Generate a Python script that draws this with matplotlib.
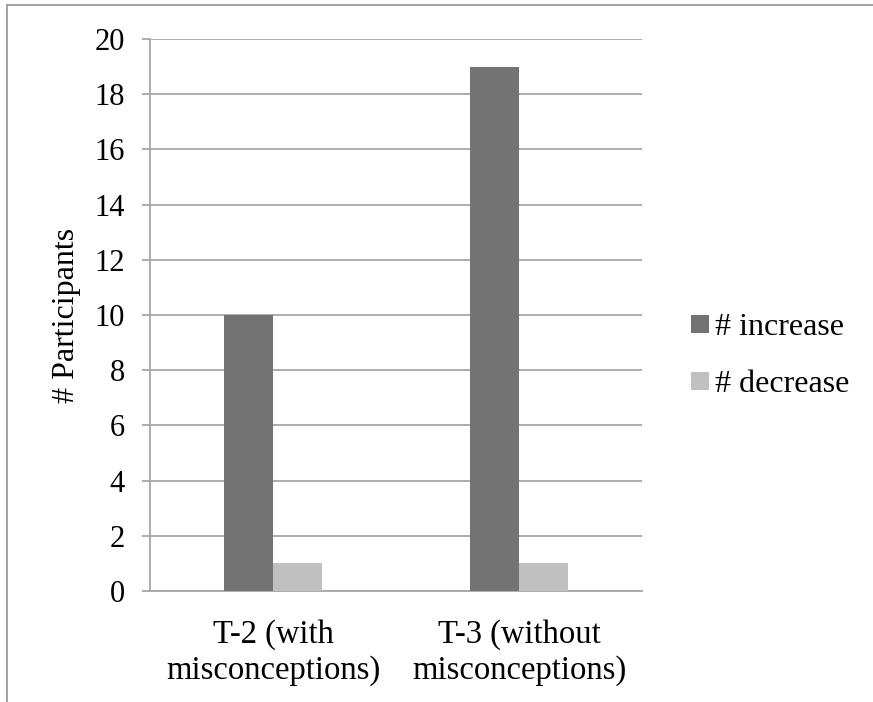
import matplotlib
matplotlib.use("Agg")
import matplotlib.pyplot as plt
from matplotlib.lines import Line2D
import numpy as np

categories = ["T-2 (with\nmisconceptions)", "T-3 (without\nmisconceptions)"]
series_names = ["# increase", "# decrease"]
increase = [10, 19]
decrease = [1, 1]
y_ticks = [0, 2, 4, 6, 8, 10, 12, 14, 16, 18, 20]

plt.rcParams["font.family"] = ["Liberation Serif", "DejaVu Serif"]

W, H = 873, 702
fig = plt.figure(figsize=(W / 100, H / 100), dpi=100)

grid_col = "#a6a6a6"
ax = fig.add_axes([150 / W, (H - 591) / H, (642 - 150) / W, (591 - 39) / H])

x = np.arange(len(categories))
bw = 0.2
ax.bar(x - bw / 2, increase, width=bw, color="#737373", label=series_names[0], zorder=3)
ax.bar(x + bw / 2, decrease, width=bw, color="#c0c0c0", label=series_names[1], zorder=3)

ax.set_xlim(-0.5, 1.5)
ax.set_ylim(0, 20)
ax.set_yticks(y_ticks)
ax.set_yticklabels([str(v) for v in y_ticks], fontsize=22)
ax.yaxis.grid(True, color=grid_col, linewidth=1.3, zorder=0)
ax.set_axisbelow(True)

ax.set_xticks(x)
ax.set_xticklabels(categories, fontsize=23.5, linespacing=1.22)
ax.tick_params(axis="x", length=0, pad=20)
ax.tick_params(axis="y", length=6, width=1.3, color=grid_col, pad=12)

for side in ["top", "right"]:
    ax.spines[side].set_visible(False)
for side in ["left", "bottom"]:
    ax.spines[side].set_color(grid_col)
    ax.spines[side].set_linewidth(1.3)

ax.set_ylabel("# Participants", fontsize=23, labelpad=10)

ax.legend(loc="center left", bbox_to_anchor=(691 / W, 1 - 356 / H),
          bbox_transform=fig.transFigure, frameon=False, fontsize=23,
          handlelength=0.55, handleheight=0.5, handletextpad=0.2,
          labelspacing=0.88, borderpad=0, borderaxespad=0)

# outer frame lines (top and left)
fig.add_artist(Line2D([7 / W, 1.0], [1 - 5 / H, 1 - 5 / H], transform=fig.transFigure,
                      color="#9a9a9a", linewidth=1.3))
fig.add_artist(Line2D([7 / W, 7 / W], [1 - 5 / H, 0.0], transform=fig.transFigure,
                      color="#9a9a9a", linewidth=1.3))

fig.savefig("out.png", dpi=100, facecolor="white")
